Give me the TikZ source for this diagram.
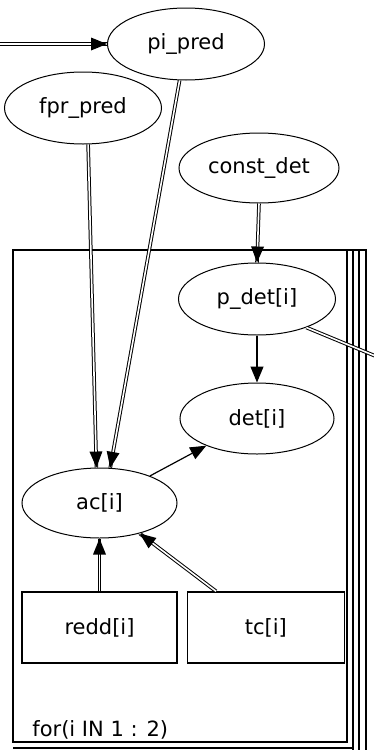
\documentclass[tikz,border=0pt]{standalone}
\usepackage{fontspec}
\setmainfont{DejaVu Sans}
\usepackage{tikz}
\usetikzlibrary{arrows.meta,positioning,shapes.geometric,decorations.markings}

\begin{document}
\begin{tikzpicture}[x=0.5pt,y=-0.5pt,>={Triangle[length=8pt,width=6.5pt]},font=\fontsize{10.5}{12}\selectfont]
\tikzset{
 stoch/.style={draw,ellipse,line width=0.5pt,inner sep=0pt,minimum width=78.5pt,minimum height=36pt},
 constbox/.style={draw,rectangle,line width=0.7pt,inner sep=0pt,minimum width=77.5pt,minimum height=35.5pt},
 logic/.style={draw,line width=0.5pt,double=white,double distance=0.8pt},
 % filled head put on top of the double line
 logicarrow/.style={logic,postaction={decorate},
   decoration={markings,mark=at position 1 with {\fill[black] (0,0) -- (-16,6.5) -- (-16,-6.5) -- cycle;}}},
 dep/.style={->,line width=0.6pt},
 plate/.style={line width=0.9pt}
}
\useasboundingbox (0,0) rectangle (374,750);
\clip (0,0) rectangle (374,750);

% plate for i
\draw[plate] (13,250) rectangle (347,742);
\draw[plate] (13,748) -- (353,748);
\draw[plate] (347,250) -- (367,250);
\foreach \px in {353,359,366} {
  \draw[plate] (\px,250) -- (\px,760);
}
\node[anchor=base west,inner sep=0pt] (platelbl) at (32,736) {for(i IN 1 : 2)};

% nodes
\node[stoch] (pipred) at (186,44) {pi\_pred};
\node[stoch] (fprpred) at (83,108) {fpr\_pred};
\node[stoch,minimum width=80pt,minimum height=35pt] (constdet) at (259,168) {const\_det};
\node[stoch] (pdet) at (257,299) {p\_det[i]};
\node[stoch,minimum width=77pt,minimum height=35.5pt,below=23.5pt of pdet] (det) {det[i]};
\node[stoch,minimum width=77.5pt,minimum height=35pt] (ac) at (99.5,503) {ac[i]};
\node[constbox] (redd) at (99.5,627.5) {redd[i]};
\node[constbox,minimum width=78.5pt,right=4.5pt of redd] (tc) {tc[i]};

\coordinate (inL) at (-5,44);
\coordinate (outR) at (385,360);

% edges
\draw[logicarrow] (inL) -- (pipred.west);
\draw[logicarrow] (fprpred.-82) -- (ac.95);
\draw[logicarrow] (pipred.-100) -- (ac.73);
\draw[logicarrow] (constdet.south) -- (pdet.north);
\draw[dep] (pdet.south) -- (det.north);
\draw[dep] (ac) -- (det);
\draw[logicarrow] (redd.north) -- (ac.south);
\draw[logicarrow] (tc.144) -- (ac);
\draw[logic] (pdet.-30) -- (outR);
\end{tikzpicture}
\end{document}
